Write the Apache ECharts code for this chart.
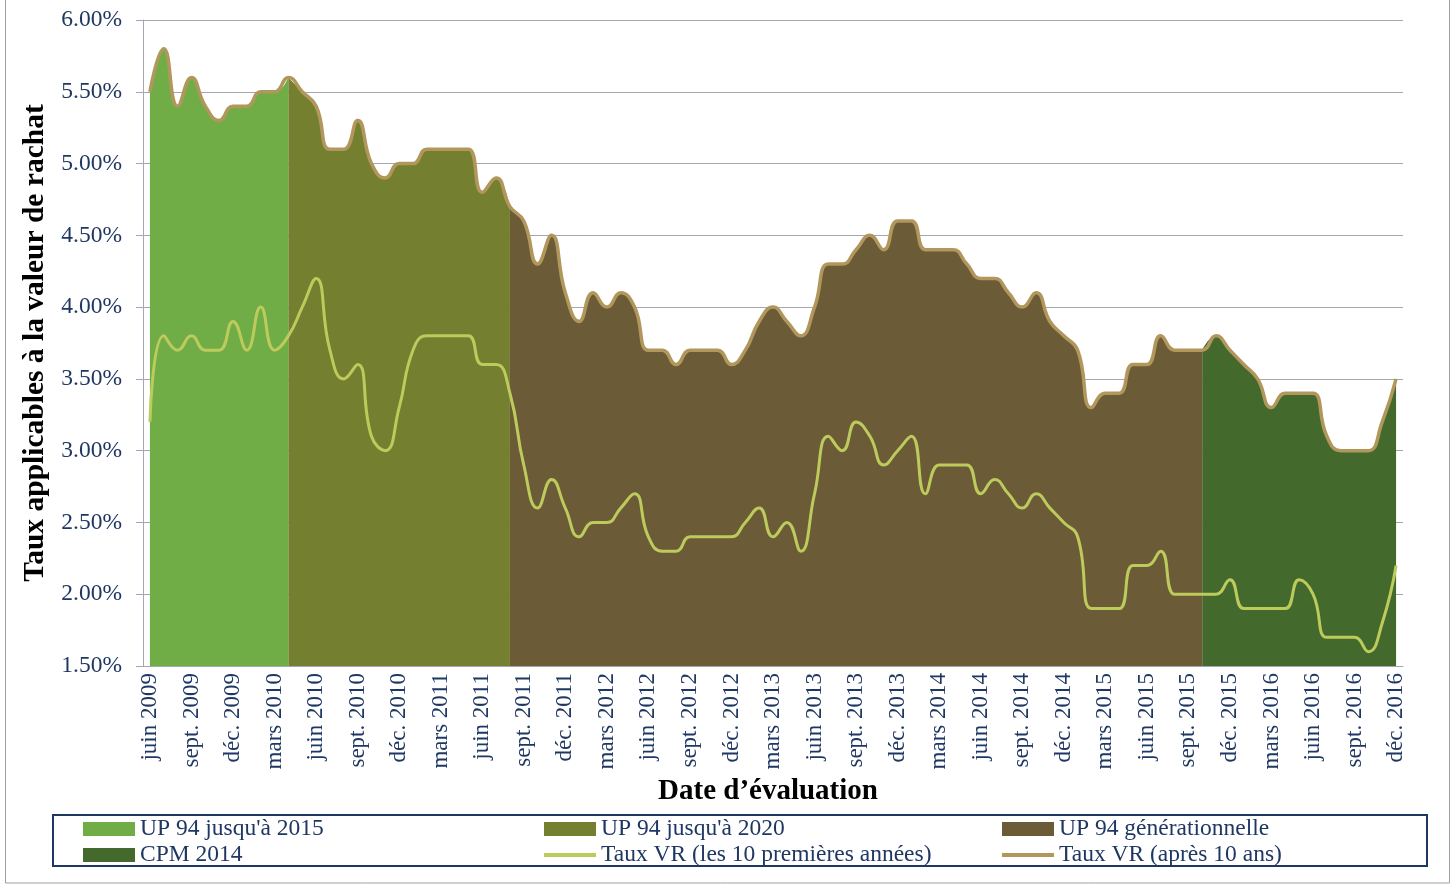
<!DOCTYPE html>
<html>
<head>
<meta charset="utf-8">
<script src="https://cdn.jsdelivr.net/npm/echarts@6/dist/echarts.min.js"></script>
<style>
  html, body { margin: 0; padding: 0; background: #fff; }
  #chart { width: 1456px; height: 886px; }
</style>
</head>
<body>
<div id="chart"></div>
<script>
// Date d'évaluation, de juin 2009 à déc. 2016 (mensuel)
const mois = [
  'juin 2009', 'juil. 2009', 'août 2009', 'sept. 2009', 'oct. 2009', 'nov. 2009', 'déc. 2009',
  'janv. 2010', 'févr. 2010', 'mars 2010', 'avr. 2010', 'mai 2010', 'juin 2010', 'juil. 2010', 'août 2010', 'sept. 2010', 'oct. 2010', 'nov. 2010', 'déc. 2010',
  'janv. 2011', 'févr. 2011', 'mars 2011', 'avr. 2011', 'mai 2011', 'juin 2011', 'juil. 2011', 'août 2011', 'sept. 2011', 'oct. 2011', 'nov. 2011', 'déc. 2011',
  'janv. 2012', 'févr. 2012', 'mars 2012', 'avr. 2012', 'mai 2012', 'juin 2012', 'juil. 2012', 'août 2012', 'sept. 2012', 'oct. 2012', 'nov. 2012', 'déc. 2012',
  'janv. 2013', 'févr. 2013', 'mars 2013', 'avr. 2013', 'mai 2013', 'juin 2013', 'juil. 2013', 'août 2013', 'sept. 2013', 'oct. 2013', 'nov. 2013', 'déc. 2013',
  'janv. 2014', 'févr. 2014', 'mars 2014', 'avr. 2014', 'mai 2014', 'juin 2014', 'juil. 2014', 'août 2014', 'sept. 2014', 'oct. 2014', 'nov. 2014', 'déc. 2014',
  'janv. 2015', 'févr. 2015', 'mars 2015', 'avr. 2015', 'mai 2015', 'juin 2015', 'juil. 2015', 'août 2015', 'sept. 2015', 'oct. 2015', 'nov. 2015', 'déc. 2015',
  'janv. 2016', 'févr. 2016', 'mars 2016', 'avr. 2016', 'mai 2016', 'juin 2016', 'juil. 2016', 'août 2016', 'sept. 2016', 'oct. 2016', 'nov. 2016', 'déc. 2016'
]

// Taux VR (les 10 premières années), en %
const tauxPremieres = [
  3.2, 3.8, 3.7, 3.8, 3.7, 3.7, 3.9,
  3.7, 4.0, 3.7, 3.8, 4.0, 4.2, 3.7, 3.5, 3.6, 3.1, 3.0, 3.3,
  3.7, 3.8, 3.8, 3.8, 3.8, 3.6, 3.6, 3.4, 2.9, 2.6, 2.8, 2.6,
  2.4, 2.5, 2.5, 2.6, 2.7, 2.4, 2.3, 2.3, 2.4, 2.4, 2.4, 2.4,
  2.5, 2.6, 2.4, 2.5, 2.3, 2.7, 3.1, 3.0, 3.2, 3.1, 2.9, 3.0,
  3.1, 2.7, 2.9, 2.9, 2.9, 2.7, 2.8, 2.7, 2.6, 2.7, 2.6, 2.5,
  2.4, 1.9, 1.9, 1.9, 2.2, 2.2, 2.3, 2.0, 2.0, 2.0, 2.0, 2.1,
  1.9, 1.9, 1.9, 1.9, 2.1, 2.0, 1.7, 1.7, 1.7, 1.6, 1.8, 2.2
]

// Taux VR (après 10 ans), en %
const tauxApres = [
  5.5, 5.8, 5.4, 5.6, 5.4, 5.3, 5.4,
  5.4, 5.5, 5.5, 5.6, 5.5, 5.4, 5.1, 5.1, 5.3, 5.0, 4.9, 5.0,
  5.0, 5.1, 5.1, 5.1, 5.1, 4.8, 4.9, 4.7, 4.6, 4.3, 4.5, 4.1,
  3.9, 4.1, 4.0, 4.1, 4.0, 3.7, 3.7, 3.6, 3.7, 3.7, 3.7, 3.6,
  3.7, 3.9, 4.0, 3.9, 3.8, 4.0, 4.3, 4.3, 4.4, 4.5, 4.4, 4.6,
  4.6, 4.4, 4.4, 4.4, 4.3, 4.2, 4.2, 4.1, 4.0, 4.1, 3.9, 3.8,
  3.7, 3.3, 3.4, 3.4, 3.6, 3.6, 3.8, 3.7, 3.7, 3.7, 3.8, 3.7,
  3.6, 3.5, 3.3, 3.4, 3.4, 3.4, 3.1, 3.0, 3.0, 3.0, 3.2, 3.5
]

// tables de mortalité en vigueur (index de début / fin dans mois)
const tables = ["UP 94 jusqu'à 2015", "UP 94 jusqu'à 2020", 'UP 94 générationnelle', 'CPM 2014']
const tableDebut = [0, 10, 26, 76]
const tableFin = [10, 26, 76, 90]
const tableCouleurs = ['#70AD47', '#757F30', '#6B5B36', '#44692D']

const serif = 'Liberation Serif'
const bleu = '#1F3763'
const gris = '#A6A6B3'
const lissage = 0.5

const chart = echarts.init(document.getElementById('chart'))

const aires = tables.map((nom, k) => ({
  name: nom,
  type: 'line',
  smooth: lissage,
  symbol: 'none',
  data: tauxApres.map((v, i) => (i >= tableDebut[k] && i <= tableFin[k]) ? v : null),
  itemStyle: { color: tableCouleurs[k] },
  lineStyle: { width: 0 },
  areaStyle: { color: tableCouleurs[k], opacity: 1, origin: 'start' }
}))

const legende = (left, noms) => ({
  left: left,
  top: 817,
  orient: 'vertical',
  padding: 0,
  itemWidth: 52,
  itemHeight: 14,
  itemGap: 2,
  textStyle: { fontFamily: serif, fontSize: 23.5, color: bleu, lineHeight: 23 },
  data: noms
})

// icône de légende des courbes : trait seul, sans symbole
const trait = nom => ({ name: nom, itemStyle: { opacity: 0 }, lineStyle: { width: 4 } })

const option = {
  animation: false,
  grid: { left: 143, right: 53, top: 20, bottom: 220 },
  xAxis: {
    type: 'category',
    data: mois,
    boundaryGap: true,
    name: 'Date d’évaluation',
    nameLocation: 'middle',
    nameGap: 108,
    nameTextStyle: { fontFamily: serif, fontSize: 29, fontWeight: 'bold', color: '#000', padding: [0, 10, 0, 0] },
    axisLine: { lineStyle: { color: gris, width: 1 } },
    axisTick: { interval: 0, length: 5, lineStyle: { color: gris } },
    axisLabel: {
      interval: 2,
      rotate: 90,
      margin: 7,
      fontFamily: serif,
      fontSize: 23,
      color: bleu
    }
  },
  yAxis: {
    type: 'value',
    min: 1.5,
    max: 6,
    interval: 0.5,
    name: 'Taux applicables à la valeur de rachat',
    nameLocation: 'middle',
    nameRotate: 90,
    nameGap: 86,
    nameTextStyle: { fontFamily: serif, fontSize: 29.5, fontWeight: 'bold', color: '#000' },
    axisLine: { show: true, lineStyle: { color: gris, width: 1 } },
    axisTick: { show: true, length: 7, lineStyle: { color: gris } },
    splitLine: { lineStyle: { color: gris, width: 1 } },
    axisLabel: {
      margin: 21,
      fontFamily: serif,
      fontSize: 23.5,
      color: bleu,
      formatter: v => v.toFixed(2) + '%'
    }
  },
  legend: [
    legende(83, [{ name: tables[0], icon: 'rect' }, { name: tables[3], icon: 'rect' }]),
    legende(542, [{ name: tables[1], icon: 'rect' }, trait('Taux VR (les 10 premières années)')]),
    legende(1000, [{ name: tables[2], icon: 'rect' }, trait('Taux VR (après 10 ans)')])
  ],
  graphic: [
    {
      type: 'rect',
      shape: { x: 5.5, y: -2, width: 1444, height: 885 },
      style: { fill: 'none', stroke: '#A0A0A0', lineWidth: 1 },
      silent: true
    },
    {
      type: 'rect',
      shape: { x: 53, y: 815, width: 1374, height: 51 },
      style: { fill: 'none', stroke: bleu, lineWidth: 2 },
      silent: true
    }
  ],
  series: [
    ...aires,
    {
      name: 'Taux VR (les 10 premières années)',
      type: 'line',
      smooth: lissage,
      symbol: 'none',
      data: tauxPremieres,
      itemStyle: { color: '#BDCB5C' },
      lineStyle: { color: '#BDCB5C', width: 3 }
    },
    {
      name: 'Taux VR (après 10 ans)',
      type: 'line',
      smooth: lissage,
      symbol: 'none',
      data: tauxApres,
      itemStyle: { color: '#B2975C' },
      lineStyle: { color: '#B2975C', width: 3.5 }
    }
  ]
}

chart.setOption(option)
</script>
</body>
</html>
